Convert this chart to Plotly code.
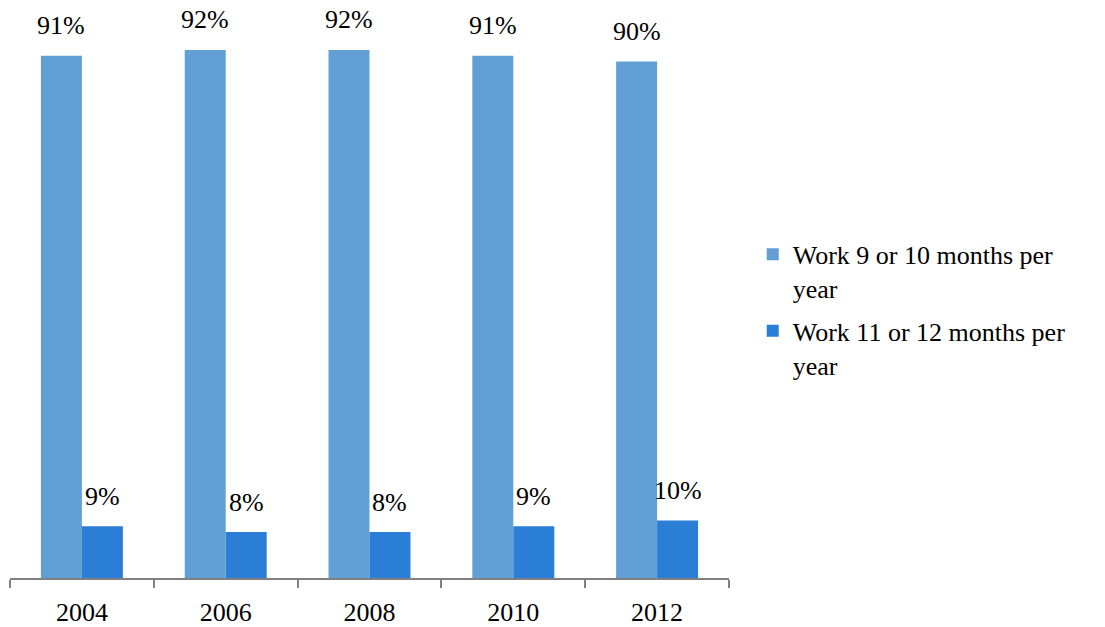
import plotly.graph_objects as go

years = ["2004", "2006", "2008", "2010", "2012"]
work_9_10 = [91, 92, 92, 91, 90]
work_11_12 = [9, 8, 8, 9, 10]
series_names = ["Work 9 or 10 months per<br>year", "Work 11 or 12 months per<br>year"]
colors = ["#629fd4", "#2b7ed6"]

FONT = "Liberation Serif"
FS = 26
W, H = 1105, 627
ML, MR, MT, MB = 10, 376, 4, 49
BARGAP = 0.43

fig = go.Figure()
for i, (name, vals, col) in enumerate(zip(series_names, [work_9_10, work_11_12], colors)):
    fig.add_trace(go.Bar(x=years, y=vals, name=name, legendgroup=f"g{i}",
                         marker=dict(color=col, line=dict(width=0))))

plot_w = W - ML - MR
half = plot_w / len(years) * (1 - BARGAP) / 4
for i, vals in enumerate([work_9_10, work_11_12]):
    shift = -half if i == 0 else half
    for idx, v in enumerate(vals):
        fig.add_annotation(x=idx, y=v, text=f"{v}%", showarrow=False, xshift=shift,
                           yshift=30, yanchor="middle",
                           font=dict(family=FONT, size=FS, color="#000000"))

fig.update_layout(
    width=W, height=H,
    margin=dict(l=ML, r=MR, t=MT, b=MB, autoexpand=False),
    barmode="group", bargap=BARGAP, bargroupgap=0,
    plot_bgcolor="white", paper_bgcolor="white",
    font=dict(family=FONT, size=FS, color="#000000"),
    showlegend=True,
    legend=dict(x=1.033, y=0.605, xanchor="left", yanchor="top", valign="top",
                font=dict(family=FONT, size=FS, color="#000000"),
                itemwidth=30, tracegroupgap=6, bgcolor="rgba(0,0,0,0)"),
    xaxis=dict(type="category", range=[-0.5, len(years) - 0.5], showline=True,
               linecolor="#808080", linewidth=2, ticks="outside",
               tickson="boundaries", ticklen=8, tickcolor="#808080", tickwidth=2,
               ticklabelstandoff=10,
               showgrid=False, automargin=False,
               tickfont=dict(family=FONT, size=FS, color="#000000")),
    yaxis=dict(range=[0, 100], visible=False, showgrid=False, zeroline=False, automargin=False),
)

fig.write_html("out.html", config={"displayModeBar": False},
               post_script="document.body.style.margin='0';")
